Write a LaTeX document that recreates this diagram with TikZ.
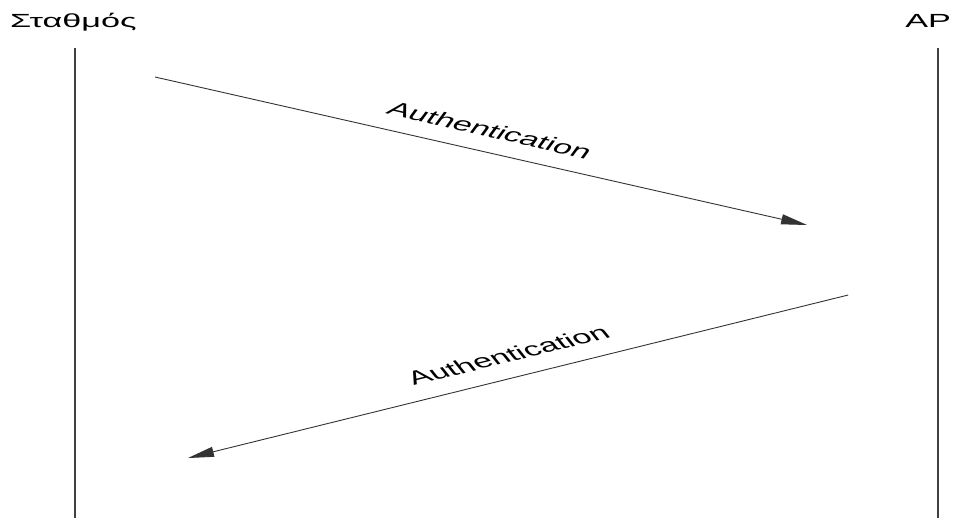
\documentclass[tikz,border=0pt]{standalone}
\usepackage{fontspec}
\setmainfont{Liberation Sans}
\usetikzlibrary{arrows.meta}

\begin{document}
\begin{tikzpicture}[x=1pt,y=-1pt,xscale=1.8,transform shape]
		\tikzstyle {life line} = [line width=1.5pt, black!75]
		\tikzstyle {msg line} = [line width=0.9pt, black!80, -{Triangle[length=26pt,width=10pt]}]
		\tikzstyle {msg label} = [font=\fontsize{19}{22}\selectfont, inner sep=0pt]

		\useasboundingbox (0,0) rectangle (529.4,518);

		\node[msg label, anchor=base] (stalabel) at (40.8,28) {Σταθμός};
		\node[msg label, anchor=base] (aplabel) at (515.6,28) {AP};

		\coordinate (statop) at (41.7,48);
		\coordinate (stabot) at (41.7,518);
		\coordinate (aptop) at (521.1,48);
		\coordinate (apbot) at (521.1,518);

		\draw[life line] (statop) -- (stabot);
		\draw[life line] (aptop) -- (apbot);

		\coordinate (req start) at (86.1,77);
		\coordinate (req end) at (448.3,225);
		\coordinate (resp start) at (471.1,295);
		\coordinate (resp end) at (104.4,458);

		\draw[msg line] (req start) -- (req end);
		\node[msg label, rotate=-22.2] (reqlabel) at (272.2,130) {Authentication};

		\draw[msg line] (resp start) -- (resp end);
		\node[msg label, rotate=24] (resplabel) at (282.2,355) {Authentication};
\end{tikzpicture}
\end{document}
